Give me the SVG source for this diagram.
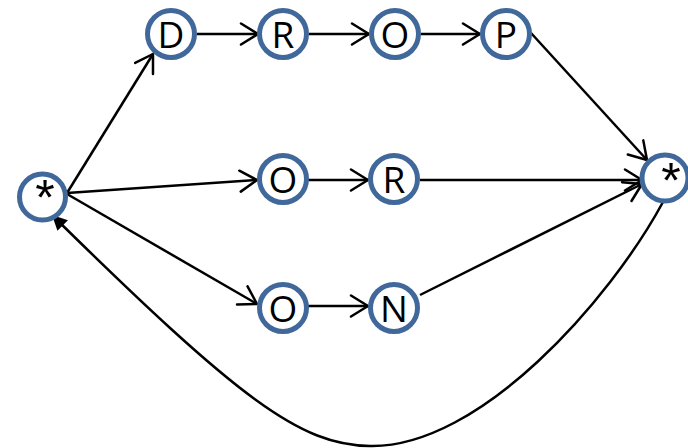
<svg xmlns="http://www.w3.org/2000/svg" width="688" height="448" viewBox="0 0 688 448">
<style>
.node circle{fill:#fff;stroke:#41689a;stroke-width:5}
.node text{font-family:"Open Sans","Liberation Sans",Arial,sans-serif;font-size:37px;text-anchor:middle;fill:#000}
.node text.star{font-family:"Liberation Sans",Arial,sans-serif;font-size:50px}
.edge{stroke:#000;stroke-width:2.5;fill:none}
.open{marker-end:url(#open)}
</style>
<defs>
<marker id="open" markerUnits="userSpaceOnUse" markerWidth="22" markerHeight="26" refX="19" refY="12" orient="auto">
<path d="M2,1.5 L19,12 L2,22.5" fill="none" stroke="#000" stroke-width="2.5" stroke-linecap="round" stroke-linejoin="round"/>
</marker>
<marker id="filled" markerUnits="userSpaceOnUse" markerWidth="16" markerHeight="16" refX="15" refY="7.5" orient="auto">
<path d="M0,0 L15,7.5 L0,15 z" fill="#000"/>
</marker>
</defs>
<g id="connectors">
<line class="edge open" x1="67" y1="193" x2="153" y2="54"/>
<line class="edge open" x1="197" y1="34" x2="258" y2="34"/>
<line class="edge open" x1="309" y1="34" x2="369" y2="34"/>
<line class="edge open" x1="421" y1="34" x2="480" y2="34"/>
<line class="edge open" x1="531" y1="33" x2="647" y2="160"/>
<line class="edge open" x1="67" y1="193" x2="257" y2="180"/>
<line class="edge open" x1="308" y1="180" x2="368" y2="180"/>
<line class="edge open" x1="420" y1="180" x2="642" y2="180"/>
<line class="edge open" x1="67" y1="194" x2="257" y2="304"/>
<line class="edge open" x1="308" y1="306" x2="368" y2="306"/>
<line class="edge open" x1="420" y1="295" x2="642" y2="184"/>
<path class="edge" marker-end="url(#filled)" d="M663,202 C610,300 480,448 370,446 C300,445 240,400 52,215"/>
</g>
<g id="start" class="node"><circle cx="42.5" cy="197" r="23"/><text class="star" x="45" y="215">*</text></g>
<g id="D" class="node"><circle cx="171" cy="34" r="23.5"/><text x="171" y="48">D</text></g>
<g id="R1" class="node"><circle cx="283" cy="34" r="23.5"/><text x="283" y="48">R</text></g>
<g id="O1" class="node"><circle cx="395" cy="34" r="23.5"/><text x="395" y="48">O</text></g>
<g id="P" class="node"><circle cx="506" cy="34" r="23.5"/><text x="506" y="48">P</text></g>
<g id="O2" class="node"><circle cx="283" cy="179" r="23.5"/><text x="283" y="193">O</text></g>
<g id="R2" class="node"><circle cx="394" cy="179" r="23.5"/><text x="394" y="193">R</text></g>
<g id="O3" class="node"><circle cx="283" cy="308" r="23.5"/><text x="283" y="322">O</text></g>
<g id="N" class="node"><circle cx="394" cy="308" r="23.5"/><text x="394" y="322">N</text></g>
<g id="end" class="node"><circle cx="665" cy="178" r="23"/><text class="star" x="671" y="198">*</text></g>
</svg>
